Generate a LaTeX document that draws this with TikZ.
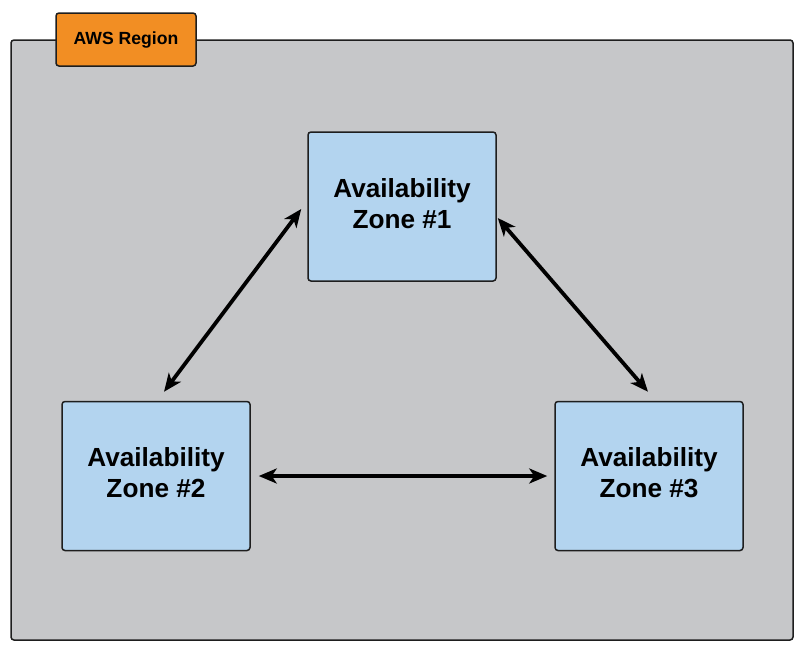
\documentclass[tikz,border=0pt]{standalone}
\usepackage{fontspec}
\setmainfont{Liberation Sans}
\usetikzlibrary{arrows.meta,positioning}

\definecolor{regiongray}{HTML}{C6C7C9}
\definecolor{zoneblue}{HTML}{B3D4EF}
\definecolor{awsorange}{HTML}{F28E23}
\definecolor{edgedark}{HTML}{1E1E1E}

\begin{document}
\begin{tikzpicture}[x=1pt, y=-1pt,
    box/.style={draw=edgedark, line width=1.5pt, rounded corners=3pt, inner sep=0pt},
    zonebox/.style={box, fill=zoneblue, minimum width=188pt, minimum height=149pt,
      align=center, text depth=6pt, font=\bfseries\fontsize{26.2}{31}\selectfont},
    link/.style={line width=3.8pt, {Stealth[length=18pt,width=15pt,inset=5pt]}-{Stealth[length=18pt,width=15pt,inset=5pt]}}]
  \useasboundingbox (0,0) rectangle (804,651);
  % region and its tag
  \node[box, fill=regiongray, minimum width=782pt, minimum height=600pt] (region) at (402,340) {};
  \node[box, fill=awsorange, minimum width=140pt, minimum height=53pt,
    font=\bfseries\fontsize{17.6}{20}\selectfont] (tag) at (126,39.5) {AWS Region};
  % zones
  \foreach \name/\x/\y/\num in {
      zone1/402/206.5/1,
      zone2/156/476/2,
      zone3/649/476/3} {
    \node[zonebox] (\name) at (\x,\y) {Availability\\Zone \#\num};
  }
  \draw[link] ([shift={(-6,2.5)}]zone1.west) -- ([shift={(8,-9)}]zone2.north);
  \draw[link] ([shift={(1,11.5)}]zone1.east) -- ([shift={(-1,-9)}]zone3.north);
  \draw[link] ([xshift=8pt]zone2.east) -- ([xshift=-7pt]zone3.west);
\end{tikzpicture}
\end{document}
